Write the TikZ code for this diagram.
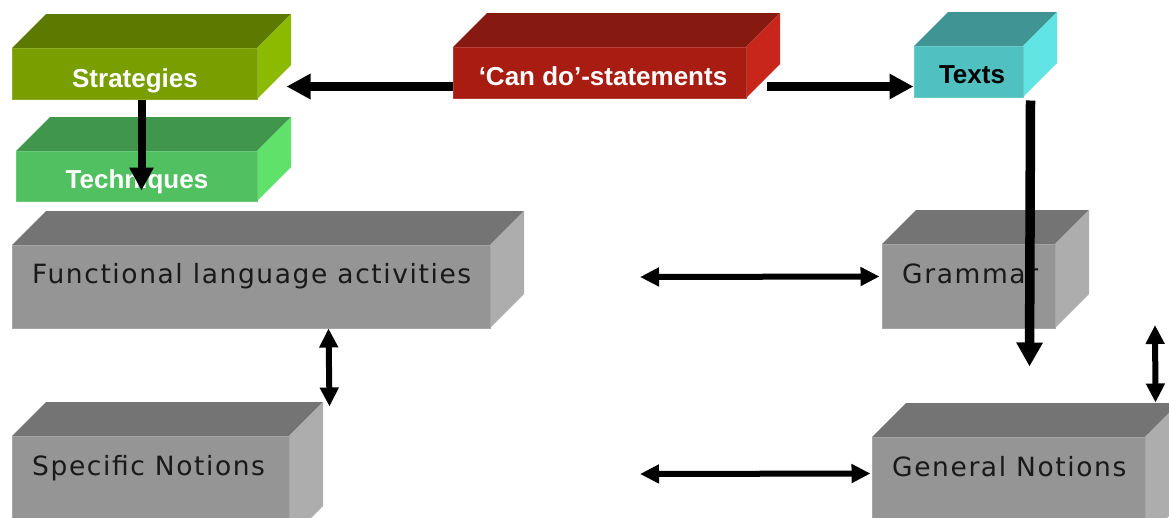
\documentclass[tikz,border=0pt]{standalone}
\usepackage{fontspec}
\setmainfont{Liberation Sans}
\newfontfamily\vfont{DejaVu Sans}[LetterSpace=6]
\usetikzlibrary{arrows.meta,calc,fit}
\definecolor{strF}{RGB}{120,158,0}
\definecolor{strT}{RGB}{92,122,0}
\definecolor{strS}{RGB}{140,186,0}
\definecolor{tecF}{RGB}{80,192,96}
\definecolor{tecT}{RGB}{64,150,74}
\definecolor{tecS}{RGB}{96,226,106}
\definecolor{canF}{RGB}{168,28,18}
\definecolor{canT}{RGB}{134,26,16}
\definecolor{canS}{RGB}{200,38,26}
\definecolor{texF}{RGB}{80,192,192}
\definecolor{texT}{RGB}{64,148,148}
\definecolor{texS}{RGB}{96,228,228}
\definecolor{grF}{RGB}{149,149,149}
\definecolor{grT}{RGB}{116,116,116}
\definecolor{grS}{RGB}{173,173,173}
\newcommand\cubebox[6]{%
  \fill[#6T] (#2,#3) -- (#2+34,#3-34) -- (#4+34,#3-34) -- (#4,#3) -- cycle;
  \fill[#6S] (#4,#3) -- (#4+34,#3-34) -- (#4+34,#5-34) -- (#4,#5) -- cycle;
  \node[fit={(#2,#3)(#4,#5)}, inner sep=0pt, fill=#6F, draw=#6F!85!white, line width=1pt] (#1) {};
}
\begin{document}
\begin{tikzpicture}[x=1pt,y=-1pt,
  boldlabel/.style={font=\fontsize{26}{30}\selectfont\bfseries, inner sep=0pt, anchor=base},
  greylabel/.style={font=\vfont\fontsize{26.5}{30}\selectfont, text=black!90, inner sep=0pt, anchor=base west},
  bigarrow/.style={line width=9pt, -{Triangle[length=24pt,width=24pt]}},
  vertarrow/.style={line width=8pt, -{Triangle[length=23pt,width=23pt]}},
  textsarrow/.style={line width=9.5pt, -{Triangle[length=24pt,width=25pt]}},
  thinarrow/.style={line width=6pt, {Triangle[length=19pt,width=18pt]}-{Triangle[length=19pt,width=18pt]}}]
\useasboundingbox (0,0) rectangle (1169,517);
% boxes
\cubebox{strat}{12}{48}{257}{99}{str}
\cubebox{tech}{16}{151}{257}{201}{tec}
\cubebox{cando}{453}{47}{746}{98}{can}
\cubebox{texts}{914}{46}{1023}{97}{tex}
\cubebox{func}{12}{245}{490}{328}{gr}
\cubebox{grammar}{882}{244}{1055}{328}{gr}
\cubebox{spec}{12}{436}{289}{540}{gr}
\cubebox{general}{872}{437}{1145}{540}{gr}
% labels
\node[boldlabel, text=white] (stratT) at (135,87) {Strategies};
\node[boldlabel, text=white] (techT) at (137,188) {Techniques};
\node[boldlabel, text=white] (candoT) at (603,85) {‘Can do’-statements};
\node[boldlabel, text=black] (textsT) at (972,83) {Texts};
\node[greylabel] (funcT) at (32,283) {Functional language activities};
\node[greylabel] (grammarT) at (902,283) {Grammar};
\node[greylabel] (specT) at (32,475) {Specific Notions};
\node[greylabel] (generalT) at (892,476) {General Notions};
% free ends
\coordinate (hA) at (640,277);
\coordinate (hB) at (640,474);
\coordinate (vTop) at (1155,325);
% connectors
\draw[bigarrow] ($(cando.south west)+(0,-12)$) -- ($(strat.south east)+(29,-13)$);
\draw[bigarrow] ($(cando.south east)+(20,-12)$) -- ($(texts.south west)+(0,-11)$);
\draw[vertarrow] ($(strat.south)+(7,0)$) -- ($(tech.south)+(5,-11)$);
\draw[textsarrow] ($(texts.south east)+(7,3)$) -- ($(general.north west)+(158,-70)$);
\draw[thinarrow] ($(func.south west)+(317,0)$) -- ($(spec.north east)+(40,-29)$);
\draw[thinarrow] (hA) -- ($(grammar.north west)+(-2,33)$);
\draw[thinarrow] (hB) -- ($(general.north west)+(-1,37)$);
\draw[thinarrow] (vTop) -- ($(general.north east)+(10,-34)$);
\end{tikzpicture}
\end{document}
